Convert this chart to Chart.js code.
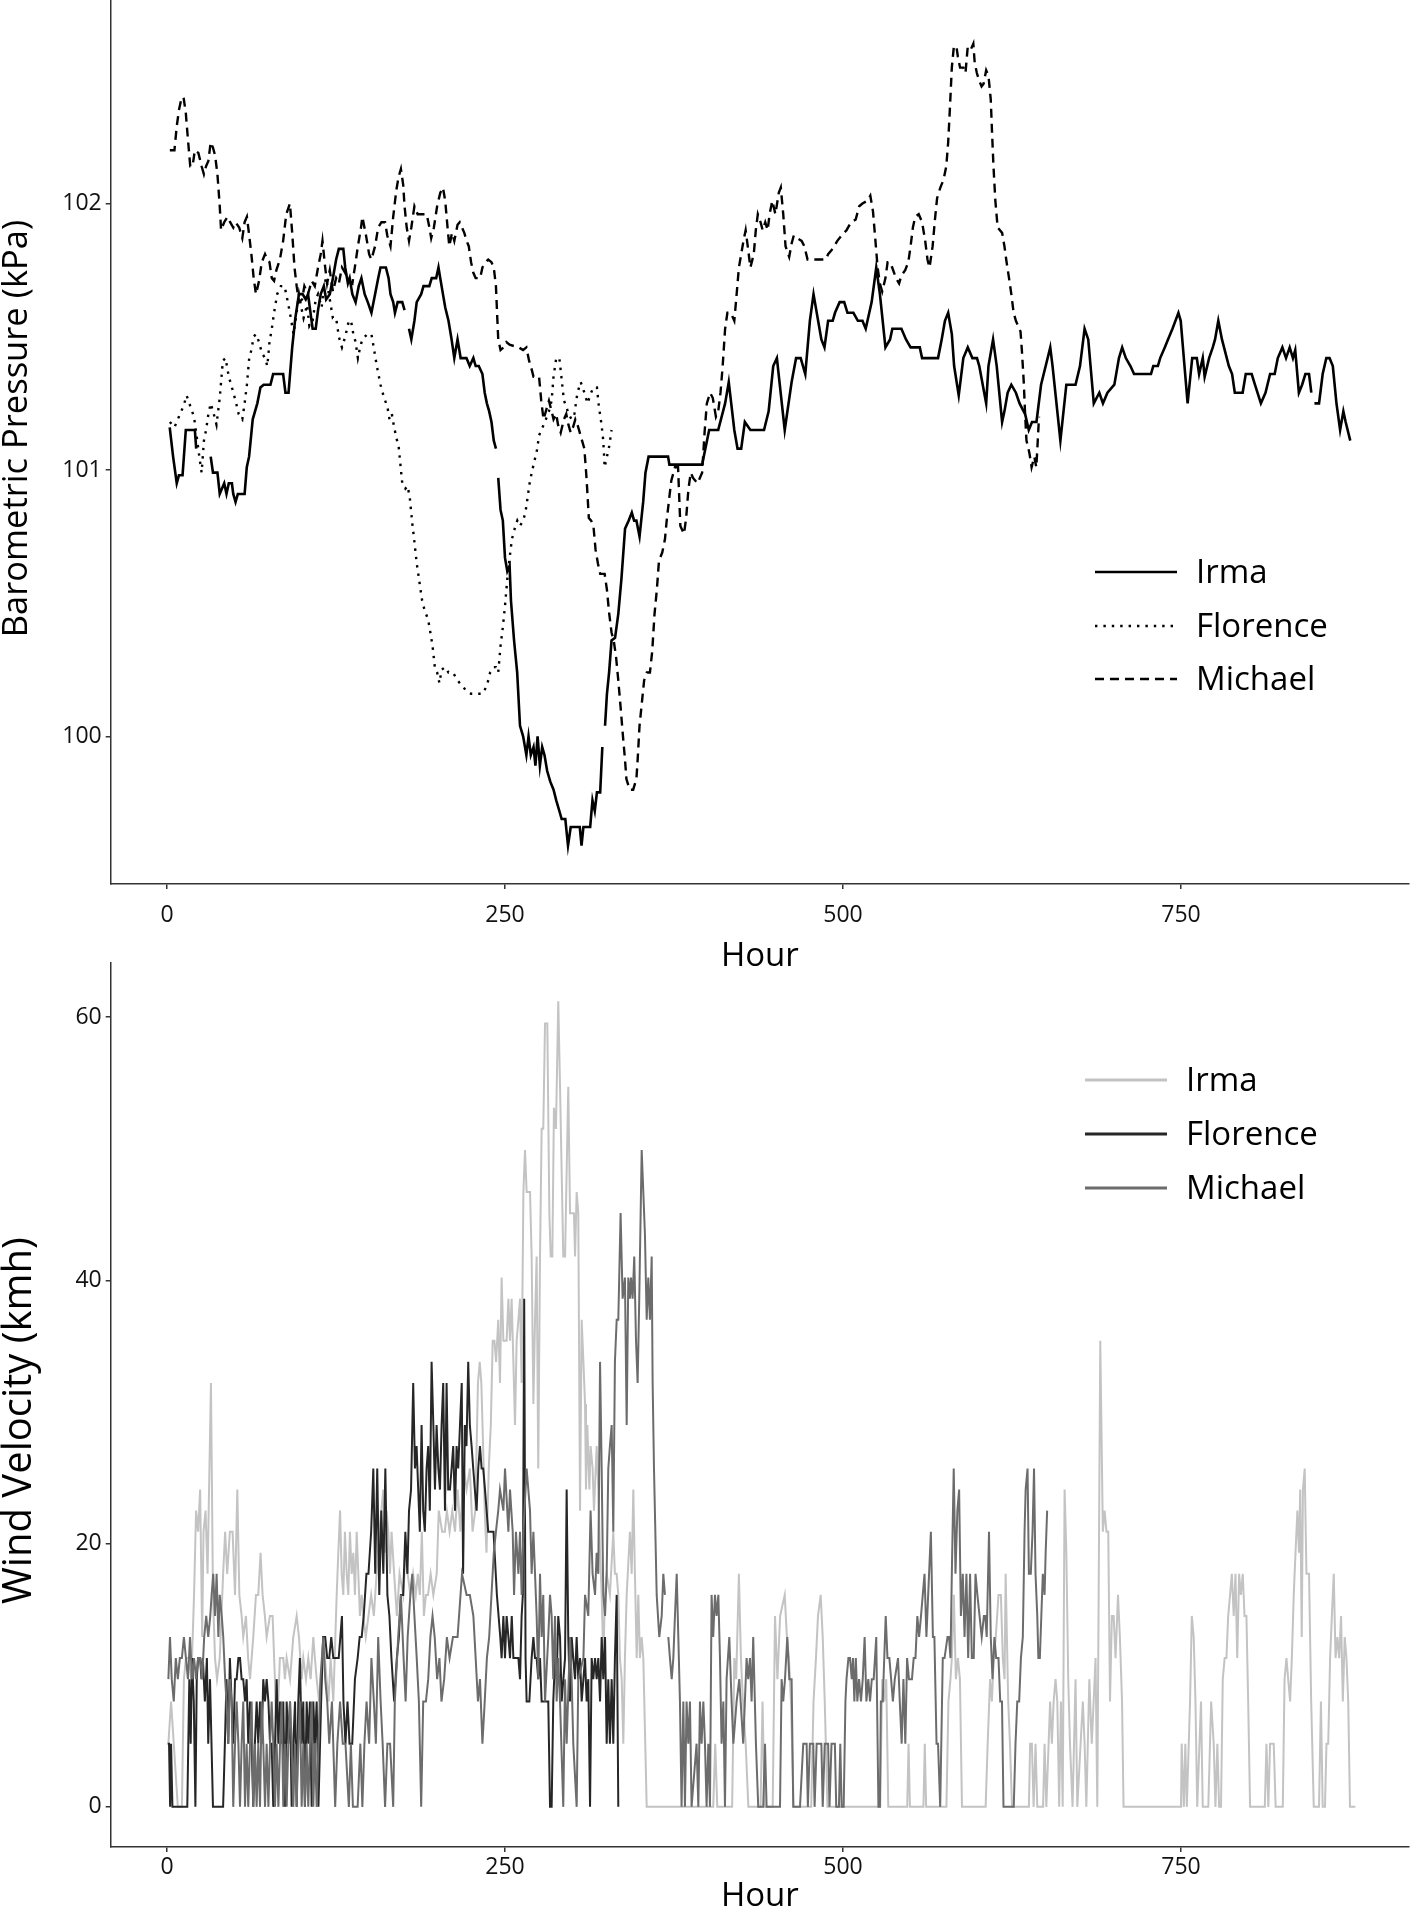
<!DOCTYPE html>
<html>
<head>
<meta charset="utf-8">
<script src="https://cdn.jsdelivr.net/npm/chart.js@4.4.1/dist/chart.umd.min.js"></script>
<style>
  html, body { margin:0; padding:0; background:#fff; width:1418px; height:1911px; overflow:hidden; }
  #c1 { position:absolute; left:0; top:0; }
  #c2 { position:absolute; left:0; top:940px; }
  .lt { position:absolute; font-family:'Open Sans', sans-serif; font-size:33px; line-height:40px; height:40px; color:#000; white-space:nowrap; }
  .ls { position:absolute; }
</style>
</head>
<body>
<canvas id="c1" width="1418" height="980"></canvas>
<canvas id="c2" width="1418" height="980"></canvas>
<div id="legends"></div>
<script>
// ---------------- DATA ----------------
const seriesNames = ['Irma', 'Florence', 'Michael'];
const hourTicks = [0, 250, 500, 750];
const pressureTicks = [100, 101, 102];
const windTicks = [0, 20, 40, 60];

// Barometric pressure (kPa): [hour, value]
const irmaPressure = [[2,101.16],[4.5,101.05],[7.2,100.95],[8.8,100.98],[11.5,100.98],[13.9,101.15],[20.6,101.15],[21.6,101.08],[27,null],[32.3,101.05],[34,100.99],[37.3,100.99],[39,100.91],[42.3,100.95],[44,100.91],[45.7,100.95],[48,100.95],[49,100.91],[50.7,100.88],[52.4,100.91],[57.4,100.91],[59,101.01],[60.7,101.05],[63.4,101.19],[66.8,101.25],[69.1,101.31],[71.5,101.32],[76.5,101.32],[78.5,101.36],[85.9,101.36],[87.6,101.29],[89.9,101.29],[92.6,101.46],[94.9,101.57],[97.6,101.66],[100.3,101.66],[102.6,101.64],[104.3,101.66],[107.7,101.53],[110,101.53],[111.7,101.6],[113.7,101.66],[116,101.69],[117.7,101.64],[120.4,101.66],[122.7,101.72],[125.1,101.79],[127.1,101.83],[130.4,101.83],[131.8,101.76],[133.8,101.7],[135.1,101.72],[137.1,101.66],[139.5,101.63],[141.8,101.69],[143.8,101.72],[146.2,101.66],[148.5,101.63],[151.2,101.59],[153.9,101.66],[156.2,101.72],[157.9,101.76],[161.9,101.76],[163.9,101.72],[165.3,101.66],[167.3,101.63],[168.6,101.59],[170.6,101.63],[174,101.63],[175.7,101.6],[177.3,null],[179,101.53],[180.7,101.49],[183,101.56],[184.7,101.63],[188,101.66],[189.7,101.69],[194,101.69],[195.8,101.72],[199.1,101.72],[200.8,101.76],[202.1,101.72],[204.1,101.66],[205.8,101.61],[208.2,101.56],[210.5,101.49],[212.5,101.42],[214.9,101.49],[217.2,101.42],[221.5,101.42],[223.9,101.39],[226.6,101.42],[228.3,101.39],[230.6,101.39],[233.3,101.36],[235,101.29],[236.6,101.25],[238.3,101.22],[240,101.18],[241.7,101.11],[243.3,101.08],[244.2,null],[245,100.97],[246.7,100.85],[248.4,100.81],[250,100.67],[251.7,100.62],[253.4,100.64],[254.4,100.51],[256.7,100.36],[259,100.24],[261.1,100.04],[263.4,100.0],[265.8,99.93],[267.4,100.0],[269.1,99.93],[271.1,99.96],[272.5,99.89],[274.1,100.0],[275.8,99.89],[277.5,99.96],[279.2,99.93],[281.2,99.87],[283.5,99.83],[285.9,99.8],[287.9,99.76],[290.2,99.72],[291.9,99.69],[294.6,99.69],[296.6,99.59],[298.6,99.66],[305.3,99.66],[306.6,99.59],[308,99.66],[313,99.66],[314.7,99.76],[316.4,99.72],[318,99.79],[320.4,99.79],[322,99.96],[323,null],[324,100.04],[325.4,100.16],[327,100.24],[328.8,100.36],[331.4,100.37],[333.8,100.46],[336.1,100.59],[338.8,100.78],[341.5,100.81],[343.8,100.84],[345.5,100.81],[347.2,100.81],[349.5,100.75],[352.2,100.88],[353.9,100.99],[356.2,101.05],[370.6,101.05],[371.6,101.02],[395.8,101.02],[401,101.15],[407.7,101.15],[412.8,101.25],[415.5,101.33],[419.6,101.15],[422,101.08],[424.7,101.08],[427.4,101.18],[431.5,101.15],[441.6,101.15],[445,101.22],[448.4,101.39],[451.1,101.42],[456.9,101.15],[462,101.33],[465.3,101.42],[468.7,101.42],[472.1,101.36],[475.5,101.56],[478.2,101.66],[481.6,101.56],[484,101.49],[486.3,101.46],[489,101.56],[492.4,101.56],[494.1,101.59],[497.5,101.63],[500.9,101.63],[503.3,101.59],[507.7,101.59],[511,101.56],[514.4,101.56],[516.8,101.53],[521.2,101.63],[524.6,101.76],[527.3,101.66],[531.4,101.46],[534.8,101.49],[536.5,101.53],[543.2,101.53],[546.6,101.49],[550,101.46],[556.8,101.46],[558.5,101.42],[570.3,101.42],[573,101.49],[575.4,101.56],[577.8,101.59],[580.5,101.51],[582.2,101.39],[585.6,101.28],[589,101.42],[592.3,101.46],[595.7,101.42],[599.1,101.42],[600.8,101.39],[605.9,101.25],[607.6,101.39],[611,101.49],[613.7,101.39],[617.7,101.18],[619.4,101.22],[621.8,101.29],[624.5,101.32],[627.9,101.29],[630.6,101.25],[634.7,101.21],[637.4,101.15],[639.8,101.18],[643.1,101.18],[646.5,101.32],[653.3,101.46],[655,101.39],[660.8,101.11],[665.2,101.32],[672,101.32],[675.3,101.39],[678.7,101.53],[681.4,101.49],[685.5,101.25],[689.6,101.29],[692.3,101.25],[695.6,101.29],[700.7,101.32],[704.1,101.42],[706.5,101.46],[709.2,101.42],[712.6,101.39],[715.3,101.36],[727.8,101.36],[729.5,101.39],[732.9,101.39],[734.6,101.42],[738,101.46],[740.4,101.49],[743.7,101.53],[748.1,101.59],[749.8,101.56],[752.6,101.39],[754.9,101.25],[758.3,101.42],[761.7,101.42],[763.4,101.36],[766.1,101.42],[767.5,101.35],[770.8,101.42],[773.5,101.46],[775.2,101.49],[777.6,101.56],[780.3,101.49],[785.4,101.39],[787.8,101.36],[789.8,101.29],[795.6,101.29],[797.9,101.36],[802.3,101.36],[804.7,101.32],[809.1,101.25],[812.5,101.29],[815.9,101.36],[819.3,101.36],[821.6,101.42],[825,101.46],[827.7,101.42],[830.4,101.46],[832.8,101.42],[834.5,101.45],[837.2,101.29],[839.6,101.32],[842,101.36],[844.7,101.36],[846.4,101.29],[847.5,null],[848.7,101.25],[852.1,101.25],[854.8,101.36],[857.5,101.42],[859.9,101.42],[862.3,101.39],[865,101.25],[867.7,101.15],[870.1,101.22],[871.8,101.18],[875.2,101.11]];

const florencePressure = [[2.1,101.18],[5.5,101.16],[8.8,101.20],[12.2,101.24],[14.5,101.28],[17.2,101.24],[19.9,101.20],[21.6,101.14],[23.9,101.05],[25.6,100.99],[27.3,101.11],[28.9,101.15],[30.6,101.21],[32.3,101.25],[34.6,101.21],[36.6,101.17],[39,101.27],[41.3,101.41],[43.3,101.42],[45.7,101.35],[48,101.31],[50.7,101.26],[53,101.21],[55.7,101.19],[57.4,101.25],[59.1,101.32],[60.8,101.42],[62.4,101.45],[64.1,101.50],[65.8,101.51],[68.1,101.48],[70.1,101.44],[72.5,101.42],[74.2,101.39],[75.8,101.48],[77.5,101.53],[79.2,101.59],[81.5,101.66],[84.2,101.69],[86.9,101.69],[88.2,101.66],[90.9,101.59],[93.6,101.51],[95.9,101.59],[97.6,101.66],[99.3,101.61],[101,101.57],[103.6,101.62],[105.3,101.54],[107.7,101.56],[110,101.64],[111.7,101.66],[114.4,101.61],[116,101.69],[117.7,101.72],[120.4,101.64],[122.7,101.57],[125.1,101.57],[127.1,101.50],[129.4,101.46],[131.8,101.50],[134.5,101.56],[136.1,101.56],[137.8,101.51],[139.5,101.48],[141.2,101.42],[142.8,101.46],[144.5,101.49],[146.2,101.50],[148.5,101.51],[151.2,101.51],[152.9,101.46],[155.2,101.39],[157.9,101.32],[160.6,101.27],[162.9,101.24],[164.6,101.19],[166.3,101.21],[168,101.16],[170.6,101.10],[171.3,101.09],[174,100.95],[176.3,100.93],[178,100.94],[179.7,100.89],[181.4,100.80],[183,100.73],[184.7,100.65],[186.4,100.59],[188.7,100.51],[190.7,100.47],[193.1,100.44],[194.8,100.39],[196.4,100.34],[198.1,100.26],[199.8,100.24],[201.5,100.20],[203.1,100.25],[205.8,100.26],[208.2,100.24],[211.5,100.24],[214.9,100.21],[218.2,100.19],[221.6,100.17],[224.9,100.16],[233.3,100.16],[236.6,100.19],[239,100.24],[241.7,100.26],[243.3,100.26],[245,100.24],[246.7,100.34],[248.4,100.41],[250,100.49],[251.7,100.59],[253.4,100.67],[255.1,100.74],[257.7,100.79],[259.1,100.81],[261.1,100.79],[263.4,100.81],[265.1,100.84],[266.8,100.90],[268.5,100.96],[271.1,101.02],[273.5,101.07],[275.2,101.13],[277.8,101.16],[280.2,101.19],[282.5,101.22],[284.5,101.26],[285.9,101.35],[287.9,101.42],[290.2,101.42],[291.9,101.34],[293.6,101.26],[295.3,101.24],[296.9,101.21],[299.3,101.19],[301.3,101.21],[303.6,101.29],[306,101.33],[308.7,101.29],[311,101.25],[313.7,101.29],[315.4,101.31],[318,101.31],[319.4,101.24],[321.4,101.17],[322.7,101.11],[323.7,101.01],[325.4,101.05],[327.1,101.09],[328.8,101.15]];

const michaelPressure = [[2.1,102.20],[5.5,102.20],[7.2,102.29],[8.8,102.35],[10.5,102.39],[12.2,102.40],[13.9,102.34],[15.5,102.24],[17.2,102.14],[18.9,102.14],[20.6,102.20],[23.2,102.19],[25.6,102.14],[27.3,102.11],[28.9,102.14],[30.6,102.16],[32.3,102.23],[34,102.21],[35.6,102.18],[37.3,102.11],[39,101.99],[40,101.90],[42.3,101.93],[44.7,101.95],[46.7,101.93],[49,101.91],[50.7,101.93],[53.4,101.91],[55.7,101.87],[57.4,101.93],[59.1,101.95],[60.8,101.88],[62.4,101.81],[64.1,101.72],[65.8,101.66],[68.1,101.71],[70.1,101.78],[72.5,101.81],[74.2,101.79],[75.8,101.78],[77.5,101.72],[79.2,101.71],[80.9,101.75],[83.5,101.79],[85.9,101.86],[88.2,101.96],[90.9,102.00],[92.6,101.89],[94.3,101.76],[95.9,101.69],[97.6,101.63],[99.9,101.64],[101.6,101.69],[104.3,101.66],[107,101.71],[109.3,101.69],[111.7,101.76],[113.7,101.81],[115,101.86],[117,101.76],[118.4,101.70],[120.4,101.75],[122.7,101.67],[125.1,101.72],[127.1,101.70],[129.4,101.76],[131.8,101.74],[134.5,101.71],[137.1,101.70],[139.5,101.78],[141.2,101.84],[143.5,101.91],[144.5,101.95],[147.2,101.88],[149.5,101.81],[151.2,101.79],[153.9,101.84],[156.2,101.91],[158.6,101.93],[161.3,101.93],[162.9,101.88],[165.3,101.84],[167.3,101.95],[169.6,102.05],[171.3,102.10],[173,102.13],[174.7,102.07],[175.7,101.99],[177.3,101.91],[179,101.86],[180.7,101.91],[183,101.99],[185.4,101.96],[192.1,101.96],[194.1,101.91],[195.4,101.87],[197.4,101.91],[199.8,101.99],[202.1,102.04],[204.1,102.06],[205.8,102.01],[207.5,101.91],[208.8,101.84],[210.8,101.89],[212.5,101.86],[214.9,101.92],[216.5,101.93],[218.2,101.91],[219.9,101.89],[221.6,101.86],[223.2,101.84],[224.9,101.78],[226.6,101.74],[228.3,101.72],[231.6,101.72],[233.3,101.76],[235.6,101.78],[237.6,101.79],[240,101.78],[241.7,101.76],[243.3,101.69],[244.3,101.57],[245,101.49],[246.7,101.45],[249,101.46],[251,101.48],[253.4,101.47],[260.1,101.46],[263.4,101.45],[265.8,101.46],[267.8,101.41],[269.1,101.39],[271.1,101.35],[275.2,101.35],[276.8,101.26],[278.5,101.19],[280.2,101.22],[282.5,101.26],[284.5,101.22],[285.9,101.19],[287.9,101.21],[289.2,101.17],[291.2,101.14],[293.6,101.19],[295.3,101.21],[296.9,101.17],[298.6,101.14],[300.3,101.16],[302,101.19],[303.6,101.17],[305.3,101.14],[307,101.11],[308.7,101.08],[310.3,100.97],[312,100.82],[313.7,100.81],[315.4,100.79],[317,100.70],[318.7,100.65],[320.4,100.61],[323.7,100.61],[325.4,100.55],[327.1,100.46],[328.8,100.39],[330.4,100.36],[332.1,100.30],[333.8,100.21],[335.5,100.11],[337.1,100.01],[338.8,99.91],[339.8,99.84],[342.2,99.80],[344.8,99.80],[347.2,99.84],[348.2,99.92],[349.5,100.04],[351.5,100.14],[352.9,100.21],[354.9,100.24],[357.2,100.24],[358.9,100.32],[360.6,100.46],[362.3,100.55],[363.9,100.66],[366.3,100.69],[368.3,100.74],[369.6,100.81],[371.6,100.90],[373,100.96],[375.7,101.01],[378,101.01],[379.7,100.79],[382.4,100.76],[384,100.82],[385.7,100.93],[387.4,100.99],[389.1,100.97],[392.4,100.95],[395.8,100.99],[397.6,101.14],[399.3,101.25],[401.7,101.29],[403.7,101.27],[406,101.20],[407.7,101.22],[409.4,101.29],[411,101.39],[412.8,101.53],[414.5,101.59],[417,101.59],[419.6,101.56],[421,101.64],[423,101.76],[424.7,101.81],[426.4,101.86],[428,101.90],[429.8,101.83],[431.5,101.76],[434,101.81],[435.5,101.90],[437,101.96],[439,101.93],[440.6,101.90],[442.5,101.93],[444.3,101.90],[445.7,101.96],[447.7,102.01],[450,101.96],[452.5,102.04],[454,102.06],[455.8,101.96],[457.5,101.84],[460.2,101.80],[462,101.85],[463.6,101.88],[466,101.87],[469.4,101.86],[471.4,101.84],[473.8,101.79],[487.3,101.79],[489,101.81],[492.4,101.83],[495.8,101.86],[499,101.88],[502.6,101.90],[506,101.93],[509.4,101.94],[512,101.99],[514.4,102.00],[517.8,102.01],[520.2,102.03],[522.2,101.97],[524,101.86],[525.6,101.76],[527.3,101.70],[529,101.67],[531.4,101.72],[533,101.78],[534.7,101.78],[536.4,101.76],[539.2,101.72],[541.5,101.70],[543.2,101.73],[546,101.75],[548.3,101.78],[550,101.84],[551.7,101.91],[553.4,101.95],[556,101.96],[558.5,101.93],[560.8,101.86],[562.5,101.79],[564,101.76],[566.3,101.84],[568,101.94],[569.6,102.02],[572,102.06],[574.4,102.09],[576.4,102.14],[577.8,102.23],[579,102.35],[580.5,102.51],[582,102.59],[583.9,102.59],[585,102.55],[586.6,102.51],[589,102.51],[590.6,102.49],[592.3,102.59],[594.7,102.58],[596.4,102.60],[597.4,102.53],[599,102.49],[600.8,102.46],[602.5,102.44],[604,102.45],[605.9,102.50],[607.6,102.48],[609.3,102.39],[610.3,102.26],[611.3,102.14],[612.7,102.01],[614.4,101.91],[617.7,101.89],[619.4,101.84],[621,101.78],[622.8,101.72],[624.5,101.66],[626.2,101.59],[627.9,101.56],[629.6,101.54],[631.3,101.52],[632.3,101.45],[633.7,101.33],[634.7,101.21],[635.7,101.11],[636.7,101.09],[638,101.06],[639.5,101.01],[641.5,101.05],[643,101.01],[645,101.20]];

// Wind velocity (km/h): [hour, value]
const irmaWind = [[1,4.8],[3,8.0],[5,4.8],[8,0],[11,0],[12.5,9.7],[14,11.3],[16,11.3],[18,9.7],[20,16.1],[21.5,22.5],[23,20.9],[24.5,24.1],[26,12.9],[27,20.9],[28.5,22.5],[30,17.7],[32.5,32.2],[34,16.1],[35.5,11.3],[37,9.7],[39,11.3],[41.5,17.7],[43,20.9],[44.5,17.7],[46.5,20.9],[48.5,20.9],[50.3,16.1],[52,24.1],[53.5,16.1],[55.2,14.5],[56.4,12.9],[58.4,14.5],[60,11.3],[61.4,9.7],[63.8,12.9],[65.8,16.1],[67.5,16.1],[69.2,19.3],[70.7,16.1],[72.4,14.5],[73.7,12.9],[76.1,14.5],[78.1,14.5],[79.8,9.7],[81,4.8],[83.5,11.3],[86,11.3],[87.2,9.7],[88.5,11.3],[91,9.7],[93.4,12.9],[95.9,14.5],[97.6,12.9],[99.6,9.7],[100.8,11.3],[102.8,9.7],[104.5,11.3],[106.2,9.7],[108.2,12.9],[109.4,11.3],[110.7,9.7],[112.5,8.0],[114,9.7],[115.6,12.9],[118,9.7],[119.5,8.0],[121,11.3],[123,8.0],[125.5,16.1],[126.7,19.3],[128,22.5],[129.2,17.7],[130.4,16.1],[131.6,20.9],[132.9,17.7],[134.1,16.1],[135.3,20.9],[136.6,17.7],[137.8,19.3],[139,16.1],[140.3,20.9],[141.5,17.7],[142.7,14.5],[144,16.1],[145.2,14.5],[147,12.9],[149,14.5],[151,16.1],[153,14.5],[155,17.7],[157,20.9],[160,24.1],[161.2,19.3],[162.4,22.5],[163.7,20.9],[164.9,17.7],[166.1,20.9],[168,17.7],[170,14.5],[172,17.7],[174.7,16.1],[176.5,19.3],[178,17.7],[180,16.1],[182,17.7],[184,16.1],[185.5,17.7],[187,16.1],[188.5,20.9],[190,14.5],[191.5,16.1],[193,16.1],[195,17.7],[197,16.1],[199.5,17.7],[201,22.5],[203.5,20.9],[205.5,20.9],[207,22.5],[209,20.9],[211,22.5],[213,20.9],[215,24.1],[217,20.9],[219.5,25.7],[221.6,24.1],[224,25.7],[226,20.9],[228,22.5],[230,32.2],[231.3,33.8],[232.5,32.2],[233.8,27.4],[235,22.5],[236.3,19.3],[238,25.7],[239.5,29.0],[240.9,35.4],[242.2,35.4],[243.4,33.8],[245,37.0],[246.3,32.2],[247.5,40.2],[248.8,35.4],[251.2,35.4],[252.5,38.6],[253.7,35.4],[254.9,38.6],[256.2,33.8],[257.4,29.0],[258.6,35.4],[259.9,37.0],[261.1,38.6],[262.3,32.2],[263.6,46.7],[264.8,49.9],[266,46.7],[268.5,46.7],[269.7,41.8],[271,30.6],[272.2,37.0],[273.4,41.8],[274.6,25.7],[275.9,41.8],[277.1,51.5],[278.3,51.5],[279.6,59.5],[281.3,59.5],[282.8,45.1],[283.8,41.8],[285,41.8],[286.2,53.1],[287.7,51.5],[289.4,61.2],[290.7,54.7],[291.9,48.3],[293.1,41.8],[294.4,41.8],[295.6,48.3],[296.8,54.7],[298.1,45.1],[299.3,45.1],[301,45.1],[301.8,41.8],[303,46.7],[304.2,45.1],[305.5,22.5],[306.7,37.0],[308,33.8],[309.2,30.6],[309.9,24.1],[310.9,29.0],[312.4,24.1],[313.3,27.4],[314.8,25.7],[315.8,22.5],[317.8,27.4],[319,24.1],[320.3,19.3],[321.5,16.1],[322.7,11.3],[324,16.1],[325.2,17.7],[327.6,16.1],[330.1,20.9],[331.3,17.7],[332.6,17.7],[333.8,16.1],[335,11.3],[336.3,9.7],[337.5,4.8],[338.7,11.3],[340,16.1],[342.4,20.9],[343.7,17.7],[344.9,24.1],[346.1,17.7],[347.4,11.3],[348.6,16.1],[349.8,11.3],[351.1,12.9],[352.3,11.3],[354.8,0],[404,0],[405.5,4.8],[407,0],[418,0],[419.6,11.3],[421,9.7],[423,17.7],[424.5,11.3],[426,8.0],[428,4.8],[430,0],[439,0],[440.5,8.0],[442,0],[448,0],[449.7,14.5],[451.5,9.7],[453.5,14.5],[456.9,16.1],[458.5,12.9],[460,11.3],[461.5,8.0],[463.5,0],[476.5,0],[478.2,8.0],[480,11.3],[481.5,14.5],[483.5,16.1],[485,12.9],[486.5,8.0],[488.5,0],[527.5,0],[529,9.7],[530.5,8.0],[532,9.7],[533.5,0],[547.5,0],[548.5,4.8],[549.5,0],[559.5,0],[560.5,4.8],[561.5,0],[576.5,0],[578,8.0],[579.5,9.7],[580.5,11.3],[582,16.1],[583.5,9.7],[585,11.3],[586.5,9.7],[588,0],[605.5,0],[607,4.8],[608.8,9.7],[610.1,8.0],[611.5,11.3],[613,12.9],[615,16.1],[616.8,16.1],[618.2,11.3],[619.5,9.7],[620.3,17.7],[622.2,8.0],[623.5,4.8],[625,0],[637.5,0],[638.4,4.8],[639.7,4.8],[641,0],[642.4,4.8],[643.7,0],[648,0],[649.1,4.8],[650.4,0],[653.2,8.0],[654.5,4.8],[655.8,8.0],[657.2,9.7],[658.5,8.0],[659.9,0],[661.2,8.0],[662.5,0],[663.9,24.1],[665.2,19.3],[666.6,9.7],[667.9,4.8],[669.8,0],[672,9.7],[673.3,0],[677.4,8.0],[678.7,4.8],[680,0],[682.2,9.7],[684,4.8],[685.4,8.0],[686.8,11.3],[688.1,0],[690.3,35.4],[692.2,20.9],[693.5,22.5],[694.9,20.9],[696.2,20.9],[697.5,8.0],[698.9,14.5],[700.2,14.5],[701.6,11.3],[703.4,16.1],[704.8,12.9],[706.4,8.0],[707.5,0],[750,0],[750.5,4.8],[752.1,0],[753.2,4.8],[754.3,0],[756.7,8.0],[758,14.5],[759.4,12.9],[760.7,8.0],[762,0],[764.8,8.0],[766.1,0],[770.2,0],[772.3,8.0],[774.2,4.8],[775.5,0],[776.9,4.8],[778.2,0],[779.6,0],[780.9,9.7],[782.3,11.3],[783.6,11.3],[784.9,14.5],[786.3,16.1],[787.6,17.7],[789,14.5],[790.3,17.7],[791.6,11.3],[793,17.7],[794.3,16.1],[795.7,17.7],[797,14.5],[798.4,14.5],[799.7,8.0],[801.1,0],[812,0],[813.2,4.8],[814.6,0],[815.9,4.8],[817.3,4.8],[818.6,4.8],[820,0],[825.3,0],[826.6,9.7],[828,11.3],[829.3,9.7],[830.7,8.0],[832,11.3],[833.4,16.1],[834.7,19.3],[836.1,22.5],[837.3,19.3],[838.2,24.1],[839.3,12.9],[840.2,24.1],[841.5,25.7],[842.8,17.7],[844.7,17.7],[846.3,8.0],[848.2,0],[852.1,0],[853.5,8.0],[854.8,0],[856.5,0],[857.6,4.8],[858.9,4.8],[860.3,11.3],[861.6,14.5],[863,17.7],[864.3,11.3],[865.7,12.9],[867,11.3],[868.4,14.5],[869.7,8.0],[871.1,12.9],[872.4,11.3],[873.7,8.0],[875,0],[879,0]];

const florenceWind = [[0.5,4.8],[1.5,4.8],[2.3,0],[3,4.8],[4,0],[15,0],[16.5,9.7],[17.5,4.8],[18.5,11.3],[19.8,8.0],[21,0],[22,9.7],[23,11.3],[24.5,11.3],[25.5,9.7],[26.5,11.3],[28,8.0],[29.5,11.3],[30.5,4.8],[31.8,9.7],[34,0],[41.5,0],[42.8,4.8],[44,9.7],[45.3,4.8],[46.5,11.3],[47.8,8.0],[49,4.8],[50.3,9.7],[51.5,9.7],[52.8,11.3],[54,11.3],[55.2,9.7],[56.4,9.7],[57.7,8.0],[58.9,9.7],[60.1,4.8],[61.4,8.0],[62.6,4.8],[63.8,0],[65,4.8],[66.3,8.0],[67.5,4.8],[68.8,8.0],[70,4.8],[71.2,9.7],[72.5,8.0],[73.7,9.7],[75,8.0],[76.2,4.8],[77.4,4.8],[78.6,0],[79.9,4.8],[81.1,9.7],[82.4,4.8],[83.6,8.0],[84.8,4.8],[86,8.0],[87.3,0],[88.5,8.0],[89.7,4.8],[91,8.0],[92.2,0],[93.4,4.8],[94.7,8.0],[95.9,0],[97.1,8.0],[98.3,11.3],[99.6,4.8],[100.8,8.0],[102,0],[103.3,8.0],[104.5,4.8],[105.7,8.0],[107,0],[108.2,8.0],[109.4,4.8],[110.7,8.0],[112,0],[114,8.0],[115.5,12.9],[117,12.9],[118.5,11.3],[120,11.3],[121.5,12.9],[123,11.3],[125,11.3],[127,11.3],[129.4,14.5],[130.5,8.0],[132,4.8],[133.5,8.0],[135,4.8],[137,4.8],[139,9.7],[141,11.3],[142.5,12.9],[144,12.9],[145.5,14.5],[147.5,17.7],[149,17.7],[151,20.9],[152.6,25.7],[154,17.7],[155.5,25.7],[157,16.1],[158.5,22.5],[160,17.7],[161.5,25.7],[163,16.1],[164.5,14.5],[166,11.3],[168,8.0],[170,11.3],[171.5,12.9],[173,16.1],[174.7,16.1],[176.3,20.9],[177.8,17.7],[179,22.5],[180.5,24.1],[182.1,32.2],[183.4,25.7],[184.6,27.4],[185.8,24.1],[187,20.9],[188.3,29.0],[189.5,22.5],[190.7,20.9],[192,25.7],[193.2,27.4],[194.4,22.5],[195.7,33.8],[197,29.0],[198.2,24.1],[199.4,29.0],[200.7,25.7],[201.9,24.1],[203.1,29.0],[204.3,32.2],[205.6,22.5],[206.8,32.2],[208,24.1],[209.3,24.1],[210.5,25.7],[211.7,27.4],[213,22.5],[214.2,27.4],[215.4,25.7],[216.7,29.0],[218,32.2],[219,17.7],[220.3,29.0],[221.5,27.4],[222.8,33.8],[224,29.0],[225.3,27.4],[226.5,25.7],[227.7,24.1],[229,22.5],[230.2,25.7],[231.5,27.4],[232.7,25.7],[233.9,25.7],[235.2,24.1],[236.4,22.5],[237.6,20.9],[239.5,20.9],[241.5,20.9],[244,16.1],[246.5,12.9],[247.5,11.3],[248.8,14.5],[250,11.3],[251.2,14.5],[252.5,12.9],[253.7,11.3],[255,14.5],[256.2,11.3],[257.4,11.3],[258.6,11.3],[259.9,11.3],[261.1,9.7],[262.3,14.5],[263.2,16.1],[264.2,38.6],[265.2,11.3],[266,8.0],[268,8.0],[269.7,11.3],[271,12.9],[272.2,11.3],[273.4,11.3],[274.6,9.7],[275.9,11.3],[277.1,8.0],[279.6,8.0],[282,8.0],[283.3,0],[284.5,0],[285.7,8.0],[287,11.3],[288.2,9.7],[289.4,14.5],[290.7,12.9],[291.9,8.0],[294.4,11.3],[295.6,24.1],[296.8,12.9],[298.1,8.0],[299.3,12.9],[300.5,11.3],[301.8,9.7],[303,12.9],[304.2,9.7],[305.5,11.3],[306.7,8.0],[308,9.7],[309.2,11.3],[310.4,8.0],[311.6,9.7],[312.9,0],[314.1,11.3],[315.3,9.7],[316.6,11.3],[317.8,9.7],[319,11.3],[320.3,8.0],[321.5,12.9],[322.7,9.7],[324,12.9],[325.2,4.8],[326.4,9.7],[327.6,4.8],[328.9,9.7],[330.1,4.8],[331.3,11.3],[332.6,16.1],[333.8,0]];

const michaelWind = [[1,9.7],[2.2,12.9],[3.5,9.7],[5,8.0],[6.5,11.3],[8,9.7],[9.5,11.3],[11,11.3],[12.5,12.9],[14,11.3],[15.5,9.7],[17,12.9],[18.5,9.7],[20,11.3],[21.5,9.7],[23,11.3],[24.5,11.3],[26,9.7],[27.5,12.9],[29,14.5],[30.5,12.9],[32,14.5],[33,16.1],[34.2,17.7],[35.5,14.5],[36.7,17.7],[38,12.9],[39,16.1],[40.5,14.5],[41.6,12.9],[43,9.7],[44,8.0],[45.3,4.8],[46.5,9.7],[47.8,8.0],[49,0],[50.3,4.8],[51.5,8.0],[52.8,4.8],[54,0],[55.2,4.8],[56.4,8.0],[57.7,0],[58.9,4.8],[60.1,0],[61.4,4.8],[62.6,8.0],[63.8,0],[65,4.8],[66.3,0],[67.5,4.8],[68.8,0],[70,8.0],[71.2,4.8],[72.5,0],[73.7,4.8],[75,0],[76.2,4.8],[77.4,8.0],[78.6,4.8],[79.9,0],[81.1,4.8],[82.4,0],[83.6,4.8],[84.8,8.0],[86,0],[87.3,4.8],[88.5,0],[89.7,4.8],[91,8.0],[92.2,4.8],[93.4,0],[94.7,4.8],[95.9,0],[97.1,4.8],[98.3,8.0],[99.6,0],[100.8,4.8],[102,0],[103.3,4.8],[104.5,0],[105.7,4.8],[107,8.0],[108.2,0],[109.4,4.8],[110.7,0],[112,4.8],[113.5,9.7],[115.6,12.9],[117,9.7],[118.5,8.0],[120,4.8],[122,8.0],[124.4,0],[126,4.8],[128,8.0],[130,4.8],[132,4.8],[134.5,0],[136,4.8],[137.5,0],[141,0],[143,4.8],[144.5,0],[146,4.8],[147.6,8.0],[149.5,4.8],[151.2,11.3],[153,8.0],[154.5,4.8],[156.2,12.9],[158,8.0],[159.5,4.8],[161.3,0],[163,4.8],[165,4.8],[167.3,0],[168.5,8.0],[171,12.9],[173,16.1],[175,11.3],[176.5,8.0],[178,12.9],[180,16.1],[181.4,17.7],[183,14.5],[184.7,11.3],[186.3,8.0],[188,0],[189.5,8.0],[191.5,8.0],[193.2,9.7],[194.8,12.9],[196.4,14.5],[198,12.9],[199.8,9.7],[201.5,11.3],[203,8.0],[205,9.7],[207,12.9],[209,11.3],[211.5,12.9],[214.9,12.9],[218.2,17.7],[221.6,16.1],[224,16.1],[226.6,14.5],[228.3,11.3],[230,8.0],[231.5,9.7],[233.3,4.8],[235,8.0],[236.6,11.3],[238.3,12.9],[240,16.1],[241.7,19.3],[243.3,20.9],[245,22.5],[246.3,24.1],[248.8,22.5],[250,25.7],[252.5,20.9],[253.7,24.1],[255.7,20.9],[256.7,16.1],[258.1,20.9],[259.9,17.7],[261.1,20.9],[262.3,16.1],[263.6,20.9],[266,25.7],[268.5,22.5],[269.7,17.7],[271,20.9],[272.2,17.7],[273.4,14.5],[274.6,9.7],[275.9,17.7],[277.1,12.9],[278.3,16.1],[279.6,8.0],[282,12.9],[283.3,16.1],[284.5,14.5],[285.7,9.7],[287,14.5],[288.2,8.0],[289.4,11.3],[290.7,8.0],[293.1,0],[294.4,9.7],[295.6,4.8],[298.1,12.9],[299.3,9.7],[300.5,4.8],[303,0],[304.2,9.7],[308,11.3],[309.2,16.1],[311.6,14.5],[313.3,22.5],[314.8,17.7],[316.6,16.1],[317.8,19.3],[319,17.7],[320.3,33.8],[321.5,25.7],[322.7,16.1],[324,14.5],[325.2,17.7],[326.4,25.7],[327.6,27.4],[328.9,29.0],[330.1,20.9],[331.3,33.8],[332.6,37.0],[333.8,37.0],[335.5,45.1],[337,38.6],[338.7,40.2],[340,29.0],[341.2,40.2],[342.4,38.6],[343.2,40.2],[344.4,38.6],[345.6,41.8],[346.9,35.4],[348.1,32.2],[349.3,38.6],[351.1,49.9],[352.3,46.7],[353.5,43.5],[354.8,37.0],[356,40.2],[357.2,37.0],[358.5,41.8],[359.2,32.2],[360.2,25.7],[362.2,16.1],[364.1,12.9],[365.9,14.5],[367.1,17.7],[368.3,16.1],[369.5,null],[370.8,12.9],[372,11.3],[373.3,9.7],[374.5,11.3],[375.7,14.5],[377,17.7],[378.2,12.9],[379.4,8.0],[380.6,0],[381.9,8.0],[383.1,0],[384.3,8.0],[385.6,4.8],[386.8,8.0],[388,0],[391.7,4.8],[393,0],[394.2,8.0],[395.4,4.8],[396.7,8.0],[397.9,4.8],[399.1,0],[400.4,4.8],[401.6,0],[402.8,16.1],[404,12.9],[405.3,16.1],[406.5,14.5],[407.8,16.1],[409,11.3],[410.2,4.8],[411.5,8.0],[412.7,0],[413.9,9.7],[415.9,12.9],[417.6,8.0],[418.9,4.8],[421.3,8.0],[423.3,9.7],[424.3,8.0],[426.2,4.8],[428.7,11.3],[429.9,9.7],[431.2,11.3],[432.4,8.0],[433.6,12.9],[435.6,4.8],[437.3,0],[441,0],[442.3,4.8],[443.5,0],[453.4,0],[454.6,9.7],[455.8,8.0],[457.1,9.7],[458.8,12.9],[460.3,9.7],[462,9.7],[463.2,0],[468.2,0],[470.6,4.8],[473.1,4.8],[474,0],[475.5,4.8],[478,4.8],[479,0],[480.5,4.8],[484,4.8],[485,0],[486.5,4.8],[489,4.8],[490,0],[491.5,4.8],[494,4.8],[495,0],[497,0],[498,4.8],[499,0],[500.5,0],[501.8,8.0],[502.6,9.7],[504,11.3],[505.2,11.3],[506.5,9.7],[507.4,11.3],[508.4,8.0],[509.5,11.3],[510.6,8.0],[511.9,9.7],[513.3,8.0],[514.6,9.7],[516,12.9],[517.3,8.0],[518.7,9.7],[520,8.0],[521.3,9.7],[522.7,9.7],[524.6,12.9],[526.2,0],[527.3,0],[528,8.0],[529.4,8.0],[531.6,14.5],[532.9,11.3],[534.3,11.3],[535.6,9.7],[536.9,8.0],[538.3,9.7],[540.7,11.3],[542,8.0],[543.4,4.8],[544.7,9.7],[546.1,4.8],[547.4,11.3],[548.8,9.7],[551,9.7],[552.3,11.3],[553.6,11.3],[555,14.5],[556.3,12.9],[557.7,14.5],[559,16.1],[560.3,17.7],[561.7,12.9],[563,16.1],[565,20.9],[566.5,12.9],[567.6,12.9],[569.2,4.8],[570.3,4.8],[571.9,0],[573.8,11.3],[575.1,11.3],[577.3,12.9],[578.4,12.9],[579.5,11.3],[580.5,17.7],[581.9,25.7],[583.2,17.7],[584.6,22.5],[585.9,24.1],[587.2,14.5],[588.6,17.7],[589.9,12.9],[591.3,17.7],[592.6,11.3],[594,17.7],[595.3,11.3],[596.7,11.3],[598,17.7],[599.4,16.1],[602.6,12.9],[604.2,14.5],[605.2,14.5],[606.3,12.9],[608,20.9],[609.3,12.9],[610.6,9.7],[612,12.9],[613.3,11.3],[615,11.3],[616.3,8.0],[617.6,8.0],[618.7,0],[626.3,0],[627.6,4.8],[628.9,8.0],[630.3,8.0],[631.6,11.3],[633,12.9],[634.3,20.9],[635.1,24.1],[636.5,25.7],[637.5,17.7],[638.9,17.7],[640.2,20.9],[641.3,25.7],[642.4,17.7],[643.7,14.5],[644.5,11.3],[645.6,11.3],[646.7,14.5],[647.8,17.7],[649.1,16.1],[649.9,19.3],[651,22.5]];

// ---------------- RENDER ----------------
const FONT = "'Open Sans', sans-serif";
const AXIS_COLOR = '#333333';
const toXY = arr => arr.map(p => ({x: p[0], y: p[1]}));

function makeScales(o) {
  return {
    x: {
      type: 'linear', min: -41.65, max: 918.65,
      afterBuildTicks: s => { s.ticks = hourTicks.map(v => ({value: v})); },
      afterFit: s => { s.height = o.xHeight; s.paddingLeft = 0; s.paddingRight = 0; },
      grid: { display: true, drawOnChartArea: false, drawTicks: true, tickLength: 5, color: AXIS_COLOR, tickColor: AXIS_COLOR, lineWidth: 1.5 },
      border: { display: true, color: AXIS_COLOR, width: 1.5 },
      ticks: { font: {family: FONT, size: 23}, color: '#111', padding: o.xTickPad, maxRotation: 0, autoSkip: false },
      title: { display: true, text: 'Hour', font: {family: FONT, size: 33}, color: '#000', padding: {top: 0, bottom: 3.2} }
    },
    y: {
      type: 'linear', min: o.yMin, max: o.yMax,
      afterBuildTicks: s => { s.ticks = o.yTicks.map(v => ({value: v})); },
      afterFit: s => { s.width = 110.7; s.paddingTop = 0; s.paddingBottom = 0; },
      grid: { display: true, drawOnChartArea: false, drawTicks: true, tickLength: 5, color: AXIS_COLOR, tickColor: AXIS_COLOR, lineWidth: 1.5 },
      border: { display: true, color: AXIS_COLOR, width: 1.5 },
      ticks: { font: {family: FONT, size: 23}, color: '#111', padding: 4, autoSkip: false },
      title: { display: true, text: o.yTitle, font: {family: FONT, size: o.yTitleSize, lineHeight: 1.0}, color: '#000', padding: {top: 0, bottom: 0} }
    }
  };
}

const baseOpts = {
  responsive: false, maintainAspectRatio: false, animation: false,
  plugins: { legend: {display: false}, tooltip: {enabled: false} },
  elements: { point: {radius: 0, hoverRadius: 0}, line: {tension: 0, borderJoinStyle: 'miter'} },
};

new Chart(document.getElementById('c1'), {
  type: 'line',
  data: { datasets: [
    { label: seriesNames[0], data: toXY(irmaPressure), borderColor: '#000', borderWidth: 2.6, spanGaps: false },
    { label: seriesNames[1], data: toXY(florencePressure), borderColor: '#000', borderWidth: 2.4, borderDash: [2.4, 6], spanGaps: false },
    { label: seriesNames[2], data: toXY(michaelPressure), borderColor: '#000', borderWidth: 2.4, borderDash: [9, 6], spanGaps: false }
  ]},
  options: Object.assign({}, baseOpts, {
    layout: { padding: {top: 0, right: 9, bottom: 0, left: 0} },
    scales: makeScales({ xHeight: 96, xTickPad: 12.3, yMin: 99.446, yMax: 102.764, yTicks: pressureTicks,
      yTitle: '   Barometric Pressure (kPa)', yTitleSize: 34.5 })
  })
});

new Chart(document.getElementById('c2'), {
  type: 'line',
  data: { datasets: [
    { label: seriesNames[0], data: toXY(irmaWind), borderColor: '#c3c3c3', borderWidth: 2, order: 3 },
    { label: seriesNames[1], data: toXY(florenceWind), borderColor: '#262626', borderWidth: 2, order: 2 },
    { label: seriesNames[2], data: toXY(michaelWind), borderColor: '#6c6c6c', borderWidth: 2, order: 1, spanGaps: false }
  ]},
  options: Object.assign({}, baseOpts, {
    layout: { padding: {top: 23, right: 9, bottom: 0, left: 0} },
    scales: makeScales({ xHeight: 73, xTickPad: 1.8, yMin: -3.05, yMax: 64.1, yTicks: windTicks,
      yTitle: 'Wind Velocity (kmh)   ', yTitleSize: 40 })
  })
});

// ---------------- LEGENDS ----------------
const legendSpecs = [
  { x1: 1095, x2: 1177, tx: 1196, ys: [572, 626, 679],
    styles: [ {c:'#000', w:2.6, d:''}, {c:'#000', w:2.4, d:'2.4 6'}, {c:'#000', w:2.4, d:'9 6'} ] },
  { x1: 1085, x2: 1167, tx: 1186, ys: [1080, 1134, 1188],
    styles: [ {c:'#c3c3c3', w:3, d:''}, {c:'#262626', w:3, d:''}, {c:'#6c6c6c', w:3, d:''} ] }
];
const host = document.getElementById('legends');
legendSpecs.forEach(spec => {
  seriesNames.forEach((name, i) => {
    const y = spec.ys[i], st = spec.styles[i];
    const svgNS = 'http://www.w3.org/2000/svg';
    const svg = document.createElementNS(svgNS, 'svg');
    svg.setAttribute('class', 'ls');
    svg.setAttribute('width', spec.x2 - spec.x1);
    svg.setAttribute('height', 10);
    svg.style.left = spec.x1 + 'px';
    svg.style.top = (y - 5) + 'px';
    const ln = document.createElementNS(svgNS, 'line');
    ln.setAttribute('x1', 0); ln.setAttribute('x2', spec.x2 - spec.x1);
    ln.setAttribute('y1', 5); ln.setAttribute('y2', 5);
    ln.setAttribute('stroke', st.c); ln.setAttribute('stroke-width', st.w);
    if (st.d) ln.setAttribute('stroke-dasharray', st.d);
    svg.appendChild(ln);
    host.appendChild(svg);
    const t = document.createElement('div');
    t.className = 'lt';
    t.textContent = name;
    t.style.left = spec.tx + 'px';
    t.style.top = (y - 21) + 'px';
    host.appendChild(t);
  });
});
</script>
</body>
</html>
